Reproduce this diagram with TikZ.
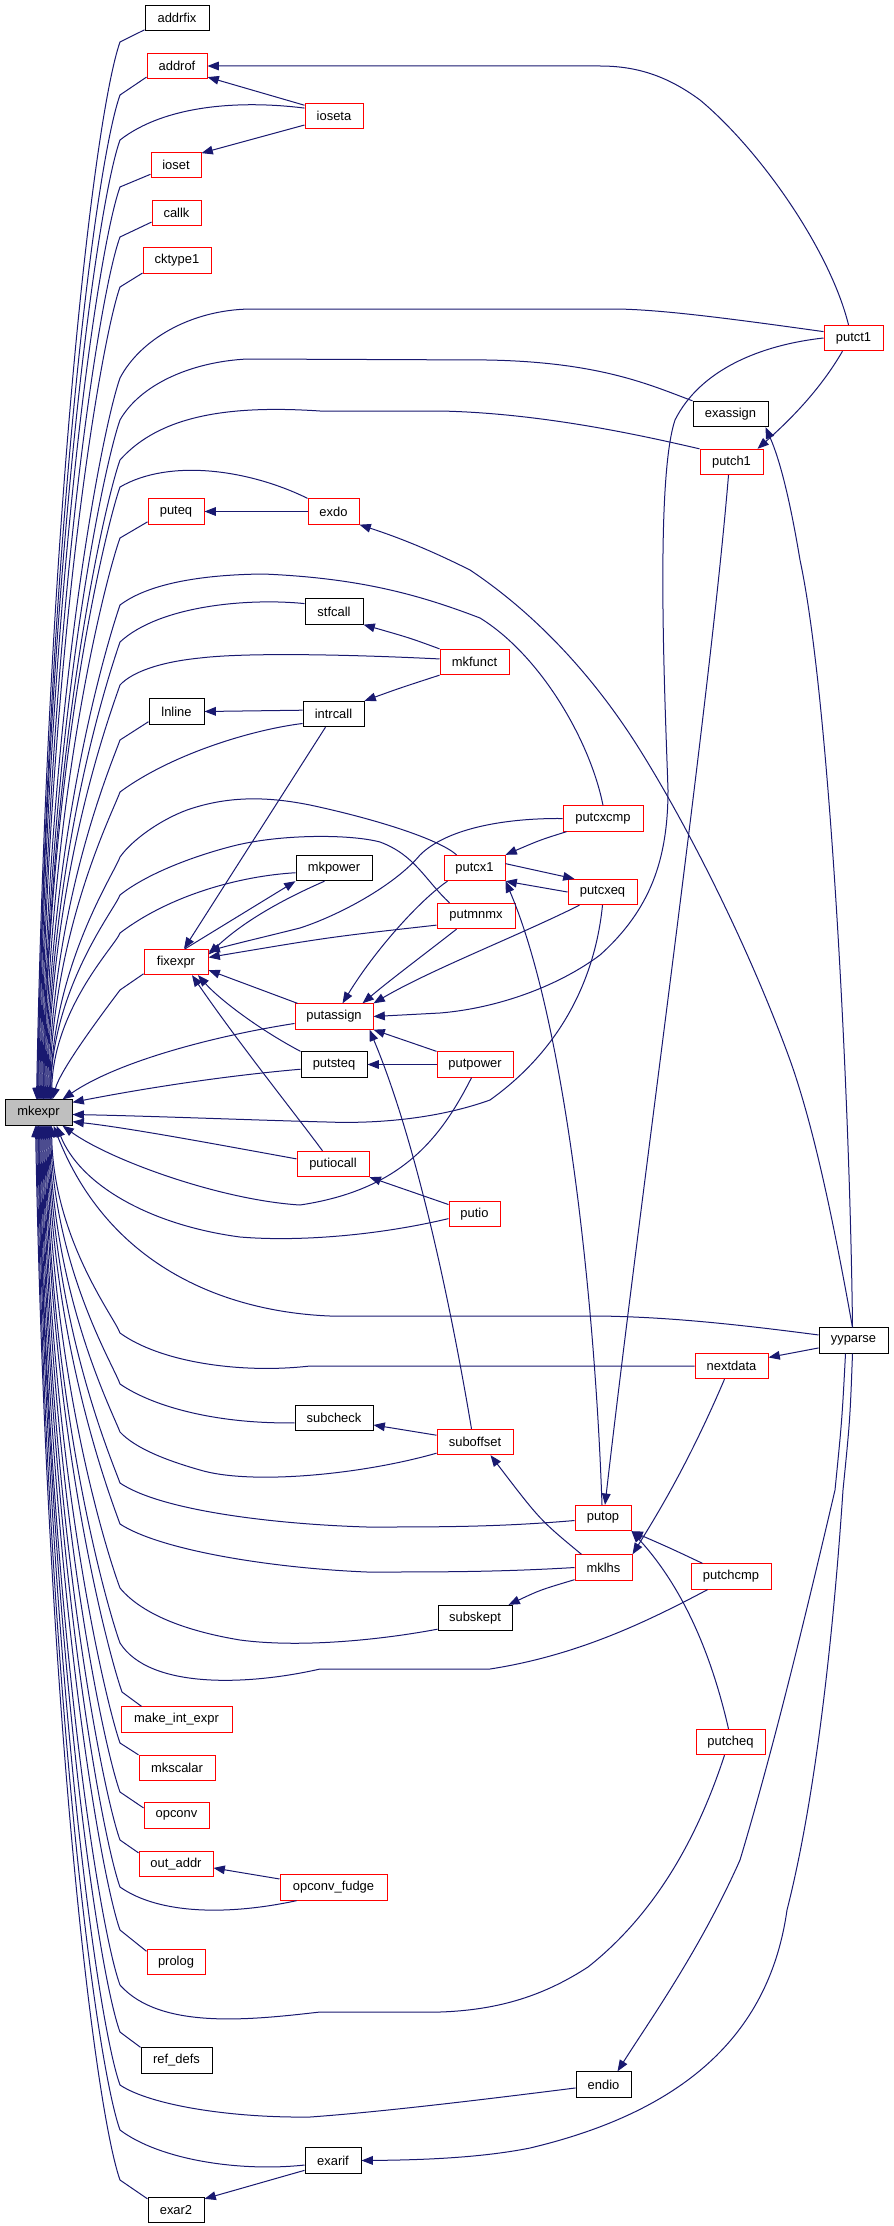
\documentclass[tikz,border=0pt]{standalone}
\usepackage{fontspec}
\setmainfont{Liberation Sans}
\usetikzlibrary{arrows.meta,calc}
\definecolor{edgec}{HTML}{191970}
\definecolor{nodered}{HTML}{FF0000}
\definecolor{nodegray}{HTML}{BFBFBF}
\begin{document}
\begin{tikzpicture}[x=0.75pt,y=-0.75pt,
  fn/.style={draw=black, fill=white, line width=0.75pt, minimum height=19pt, inner sep=1.5pt, font=\fontsize{9.7}{11}\selectfont},
  rn/.style={fn, draw=nodered},
  gn/.style={fn, fill=nodegray},
  ed/.style={draw=edgec, line width=0.75pt, -{Triangle[length=8.5pt,width=6.5pt]}}]
\useasboundingbox (0,0) rectangle (893,2226);
\fill[white] (0,0) rectangle (893,2226);
% nodes
\node[gn, minimum width=50.25pt] (mkexpr) at (38.5,1112.5) {mkexpr};
\node[fn, minimum width=48pt] (addrfix) at (177,18) {addrfix};
\node[rn, minimum width=45pt] (addrof) at (177,66) {addrof};
\node[rn, minimum width=43.5pt] (ioseta) at (334,116) {ioseta};
\node[rn, minimum width=37.5pt] (ioset) at (176,165) {ioset};
\node[rn, minimum width=36.75pt] (callk) at (176.5,213) {callk};
\node[rn, minimum width=51pt] (cktype1) at (177,260.5) {cktype1};
\node[rn, minimum width=44.25pt] (putct1) at (853.5,338) {putct1};
\node[fn, minimum width=56.25pt] (exassign) at (730.5,414) {exassign};
\node[rn, minimum width=47.25pt] (putch1) at (731.5,462) {putch1};
\node[rn, minimum width=42pt] (puteq) at (176,511.5) {puteq};
\node[rn, minimum width=38.25pt] (exdo) at (333.5,511.5) {exdo};
\node[fn, minimum width=43.5pt] (stfcall) at (334,611.5) {stfcall};
\node[rn, minimum width=51.75pt] (mkfunct) at (474.5,662) {mkfunct};
\node[fn, minimum width=41.25pt] (lnline) at (176.5,711.5) {lnline};
\node[fn, minimum width=45.75pt] (intrcall) at (333.5,714) {intrcall};
\node[rn, minimum width=60pt] (putcxcmp) at (603,818.5) {putcxcmp};
\node[rn, minimum width=45.75pt] (putcx1) at (474.5,868) {putcx1};
\node[fn, minimum width=57pt] (mkpower) at (334,868) {mkpower};
\node[rn, minimum width=51.75pt] (putcxeq) at (602.5,892) {putcxeq};
\node[rn, minimum width=58.5pt] (putmnmx) at (476,916) {putmnmx};
\node[rn, minimum width=48pt] (fixexpr) at (176,962) {fixexpr};
\node[rn, minimum width=58.5pt] (putassign) at (334,1016.5) {putassign};
\node[fn, minimum width=49.5pt] (putsteq) at (334,1064.5) {putsteq};
\node[rn, minimum width=57pt] (putpower) at (475,1064.5) {putpower};
\node[rn, minimum width=54pt] (putiocall) at (333,1164) {putiocall};
\node[rn, minimum width=38.25pt] (putio) at (474.5,1214) {putio};
\node[fn, minimum width=51.75pt] (yyparse) at (853.5,1340.5) {yyparse};
\node[rn, minimum width=54.75pt] (nextdata) at (731.5,1366) {nextdata};
\node[fn, minimum width=58.5pt] (subcheck) at (334,1418) {subcheck};
\node[rn, minimum width=57pt] (suboffset) at (475,1442) {suboffset};
\node[rn, minimum width=42pt] (putop) at (603,1518) {putop};
\node[rn, minimum width=42.75pt] (mklhs) at (603.5,1567.5) {mklhs};
\node[rn, minimum width=60pt] (putchcmp) at (731,1576.5) {putchcmp};
\node[fn, minimum width=55.5pt] (subskept) at (475,1618) {subskept};
\node[rn, minimum width=51.75pt] (putcheq) at (730.5,1742) {putcheq};
\node[rn, minimum width=83.25pt] (mie) at (176.5,1719.5) {make\_int\_expr};
\node[rn, minimum width=57pt] (mkscalar) at (177,1768) {mkscalar};
\node[rn, minimum width=48.75pt] (opconv) at (176.5,1815.5) {opconv};
\node[rn, minimum width=55.5pt] (outaddr) at (176,1864) {out\_addr};
\node[rn, minimum width=80.25pt] (ofudge) at (333.5,1887.5) {opconv\_fudge};
\node[rn, minimum width=43.5pt] (prolog) at (176,1962) {prolog};
\node[fn, minimum width=41.25pt] (endio) at (603.5,2084.5) {endio};
\node[fn, minimum width=53.25pt] (refdefs) at (176.5,2060.5) {ref\_defs};
\node[fn, minimum width=42pt] (exarif) at (333,2160.5) {exarif};
\node[fn, minimum width=42pt] (exar2) at (176,2210) {exar2};
% upper edges into mkexpr
\draw[ed] (addrfix.200) -- (120,42) .. controls +(-26,74) and +(11,-582) .. ($(mkexpr.north west)+(32,0)$);
\draw[ed] (addrof.200) -- (120,95) .. controls +(-25,70) and +(10,-553) .. ($(mkexpr.north west)+(33,0)$);
\draw[ed] (ioseta.165) .. controls (240,100) and (165,105) .. (120,140) .. controls +(-24,67) and +(10,-528) .. ($(mkexpr.north west)+(33,0)$);
\draw[ed] (ioset.200) -- (120,187) .. controls +(-23,64) and +(9,-502) .. ($(mkexpr.north west)+(34,0)$);
\draw[ed] (callk.200) -- (120,237) .. controls +(-22,60) and +(9,-475) .. ($(mkexpr.north west)+(35,0)$);
\draw[ed] (cktype1.200) -- (120,287) .. controls +(-20,57) and +(8,-447) .. ($(mkexpr.north west)+(36,0)$);
\draw[ed] (putct1.168) .. controls (740,320) and (660,309) .. (613,309) -- (250,309) .. controls (190,310) and (140,340) .. (120,378) .. controls +(-18,51) and +(7,-397) .. ($(mkexpr.north west)+(37,0)$);
\draw[ed] (exassign.north west) .. controls (650,385) and (600,362) .. (487,360) -- (247,359) .. controls (190,362) and (140,385) .. (120,420) .. controls +(-17,48) and +(7,-374) .. ($(mkexpr.north west)+(38,0)$);
\draw[ed] (putch1.north west) .. controls (640,435) and (540,413) .. (440,411) -- (320,411) .. controls (230,405) and (160,415) .. (120,460) .. controls +(-16,45) and +(6,-352) .. ($(mkexpr.north west)+(39,0)$);
\draw[ed] (exdo.north west) .. controls (250,470) and (170,458) .. (120,487) .. controls +(-15,43) and +(6,-337) .. ($(mkexpr.north west)+(39,0)$);
\draw[ed] (puteq.200) -- (120,538) .. controls +(-14,39) and +(6,-309) .. ($(mkexpr.north west)+(40,0)$);
\draw[ed] (putcxcmp.north) .. controls (590,740) and (540,655) .. (480,618) .. controls (420,595) and (360,578) .. (263,574) .. controls (180,575) and (140,590) .. (120,605) .. controls +(-12,35) and +(5,-272) .. ($(mkexpr.north west)+(41,0)$);
\draw[ed] (stfcall.165) .. controls (250,598) and (160,605) .. (120,642) .. controls +(-11,32) and +(5,-252) .. ($(mkexpr.north west)+(42,0)$);
\draw[ed] (mkfunct.175) .. controls (360,655) and (250,652) .. (200,658) .. controls (160,662) and (132,672) .. (120,685) .. controls +(-10,29) and +(4,-228) .. ($(mkexpr.north west)+(43,0)$);
\draw[ed] (lnline.200) -- (120,740) .. controls +(-9,25) and +(4,-198) .. ($(mkexpr.north west)+(44,0)$);
\draw[ed] (intrcall.197) .. controls (250,730) and (170,755) .. (120,792) .. controls +(-8,22) and +(3,-169) .. ($(mkexpr.north west)+(45,0)$);
\draw[ed] ($(putcx1.north west)+(13,0)$) .. controls (440,840) and (380,820) .. (310,805) .. controls (270,797) and (230,795) .. (187,810) .. controls (160,820) and (132,840) .. (120,857) .. controls +(-6,17) and +(2,-134) .. ($(mkexpr.north west)+(46,0)$);
\draw[ed] ($(putmnmx.north west)+(13,0)$) .. controls (425,880) and (415,855) .. (380,842) .. controls (350,834) and (280,834) .. (233,846) .. controls (190,857) and (145,875) .. (120,895) .. controls +(-5,14) and +(2,-113) .. ($(mkexpr.north west)+(46,0)$);
\draw[ed] (mkpower.187) .. controls (240,876) and (170,895) .. (120,933) .. controls +(-4,12) and +(2,-92) .. ($(mkexpr.north west)+(47,0)$);
\draw[ed] (fixexpr.200) -- (120,990) .. controls +(-18,24) and +(8,-30) .. ($(mkexpr.north west)+(48,0)$);
% right side into mkexpr
\draw[ed] (putassign.190) .. controls (220,1035) and (120,1060) .. ($(mkexpr.north west)+(58,0)$);
\draw[ed] (putsteq.188) .. controls (200,1078) and (110,1095) .. ($(mkexpr.north east)+(0,3)$);
\draw[ed] (putcxeq.south) .. controls (595,980) and (560,1050) .. (490,1100) .. controls (440,1118) and (380,1124) .. (327,1122) .. controls (250,1120) and (150,1116) .. ($(mkexpr.east)+(0,2)$);
\draw[ed] (putiocall.172) .. controls (220,1145) and (130,1128) .. ($(mkexpr.south east)+(0,-4)$);
% lower edges into mkexpr
\draw[ed] ($(putpower.south west)+(35,0)$) .. controls (440,1140) and (400,1190) .. (300,1205) .. controls (220,1200) and (110,1160) .. ($(mkexpr.south west)+(58,0)$);
\draw[ed] (putio.190) .. controls (380,1235) and (300,1242) .. (240,1237) .. controls (150,1225) and (80,1185) .. ($(mkexpr.south west)+(52,0)$);
\draw[ed] (yyparse.171) .. controls (720,1322) and (660,1317) .. (600,1316) -- (330,1316) .. controls (230,1312) and (110,1270) .. ($(mkexpr.south west)+(49,0)$);
\draw[ed] (nextdata.west) -- (310,1366) .. controls (240,1374) and (160,1362) .. (120,1333) .. controls +(-5,-15) and +(2,114) .. ($(mkexpr.south west)+(47,0)$);
\draw[ed] (subcheck.187) .. controls (220,1424) and (155,1408) .. (120,1384) .. controls +(-6,-18) and +(3,142) .. ($(mkexpr.south west)+(46,0)$);
\draw[ed] ($(suboffset.south west)+(0,-2)$) .. controls (360,1475) and (250,1485) .. (200,1470) .. controls (165,1460) and (135,1448) .. (120,1432) .. controls +(-8,-21) and +(3,169) .. ($(mkexpr.south west)+(45,0)$);
\draw[ed] (putop.185) .. controls (500,1527) and (440,1527) .. (367,1527) .. controls (270,1524) and (160,1510) .. (120,1483) .. controls +(-9,-25) and +(4,197) .. ($(mkexpr.south west)+(44,0)$);
\draw[ed] (mklhs.west) .. controls (500,1572) and (440,1572) .. (367,1572) .. controls (270,1568) and (160,1550) .. (120,1524) .. controls +(-10,-28) and +(4,219) .. ($(mkexpr.south west)+(43,0)$);
\draw[ed] ($(subskept.south west)+(0,-2)$) .. controls (380,1640) and (300,1648) .. (240,1640) .. controls (180,1630) and (140,1612) .. (120,1588) .. controls +(-12,-32) and +(5,255) .. ($(mkexpr.south west)+(42,0)$);
\draw[ed] ($(putchcmp.south west)+(17,0)$) .. controls (650,1620) and (580,1655) .. (490,1669) -- (320,1669) .. controls (250,1685) and (150,1690) .. (120,1643) .. controls +(-13,-36) and +(5,285) .. ($(mkexpr.south west)+(41,0)$);
\draw[ed] ($(mie.north west)+(21,0)$) -- (122,1692) .. controls +(-14,-40) and +(6,312) .. ($(mkexpr.south west)+(40,0)$);
\draw[ed] (mkscalar.north west) -- (120,1743) .. controls +(-15,-43) and +(6,340) .. ($(mkexpr.south west)+(39,0)$);
\draw[ed] (opconv.167) -- (120,1792) .. controls +(-17,-47) and +(7,367) .. ($(mkexpr.south west)+(38,0)$);
\draw[ed] ($(outaddr.north west)+(0,2)$) -- (120,1840) .. controls +(-18,-50) and +(7,393) .. ($(mkexpr.south west)+(37,0)$);
\draw[ed] ($(ofudge.south west)+(17,0)$) .. controls (230,1915) and (160,1915) .. (120,1887) .. controls +(-19,-53) and +(8,419) .. ($(mkexpr.south west)+(36,0)$);
\draw[ed] (prolog.160) -- (120,1930) .. controls +(-20,-56) and +(8,443) .. ($(mkexpr.south west)+(35,0)$);
\draw[ed] ($(putcheq.south west)+(29,0)$) .. controls (700,1830) and (660,1910) .. (588,1967) .. controls (545,1995) and (500,2010) .. (440,2012) -- (320,2012) .. controls (250,2020) and (160,2030) .. (120,1985) .. controls +(-22,-60) and +(9,473) .. ($(mkexpr.south west)+(34,0)$);
\draw[ed] (refdefs.north west) -- (120,2032) .. controls +(-23,-63) and +(9,499) .. ($(mkexpr.south west)+(34,0)$);
\draw[ed] (endio.187) .. controls (480,2100) and (380,2112) .. (310,2117) .. controls (230,2118) and (150,2105) .. (120,2085) .. controls +(-24,-67) and +(10,528) .. ($(mkexpr.south west)+(33,0)$);
\draw[ed] (exarif.189) .. controls (240,2172) and (160,2160) .. (120,2130) .. controls +(-25,-70) and +(10,553) .. ($(mkexpr.south west)+(32,0)$);
\draw[ed] ($(exar2.north west)+(0,2)$) -- (120,2180) .. controls +(-26,-74) and +(11,580) .. ($(mkexpr.south west)+(31,0)$);
% other edges
\draw[ed] (ioseta.160) -- (addrof.-20);
\draw[ed] (ioseta.197) -- (ioset.25);
\draw[ed] ($(putct1.north west)+(25,0)$) .. controls (830,250) and (760,150) .. (700,100) .. controls (670,78) and (640,66) .. (600,66) -- (addrof.east);
\draw[ed] ($(putct1.south west)+(19,0)$) .. controls (820,390) and (790,420) .. ($(putch1.north east)+(-6,0)$);
\draw[ed] (putct1.west) .. controls (760,345) and (700,370) .. (675,420) .. controls (655,480) and (665,700) .. (668,790) .. controls (668,860) and (650,910) .. (600,955) .. controls (560,985) and (500,1008) .. (440,1013) -- (putassign.east);
\draw[ed] (exdo.west) -- (puteq.east);
\draw[ed] (mkfunct.north west) .. controls (410,638) .. (stfcall.south east);
\draw[ed] (mkfunct.south west) .. controls (400,688) .. (intrcall.north east);
\draw[ed] (intrcall.173) -- (lnline.east);
\draw[ed] ($(intrcall.south)+(-8,0)$) -- ($(fixexpr.north)+(8,0)$);
\draw[ed] ($(putcxcmp.south west)+(4,0)$) .. controls (540,840) .. (putcx1.north east);
\draw[ed] (putcx1.8) -- ($(putcxeq.north west)+(7,0)$);
\draw[ed] (putcxeq.west) -- (putcx1.south east);
\draw[ed] (putcxcmp.west) .. controls (500,818) and (445,830) .. (420,855) .. controls (395,885) and (340,915) .. (300,928) .. controls (260,938) and (230,945) .. (fixexpr.18);
\draw[ed] ($(fixexpr.north)+(9,0)$) -- (mkpower.south west);
\draw[ed] ($(mkpower.south west)+(29,0)$) .. controls (300,892) and (250,915) .. (fixexpr.13);
\draw[ed] (putmnmx.193) .. controls (330,937) .. (fixexpr.8);
\draw[ed] ($(putcx1.south west)+(4,0)$) .. controls (420,900) and (375,950) .. ($(putassign.north west)+(48,0)$);
\draw[ed] ($(putmnmx.south west)+(20,0)$) .. controls (430,950) and (390,980) .. ($(putassign.north west)+(68,0)$);
\draw[ed] ($(putcxeq.south west)+(12,0)$) .. controls (520,935) and (430,970) .. (putassign.north east);
\draw[ed] ($(putassign.north west)+(3,0)$) -- (fixexpr.-14);
\draw[ed] (putpower.north west) -- (putassign.south east);
\draw[ed] ($(suboffset.north west)+(35,0)$) .. controls (455,1330) and (420,1150) .. ($(putassign.south east)+(-4,0)$);
\draw[ed] (putpower.west) -- (putsteq.east);
\draw[ed] (putsteq.north west) .. controls (260,1030) and (220,1000) .. ($(fixexpr.south)+(22,0)$);
\draw[ed] ($(putiocall.north west)+(26,0)$) .. controls (300,1120) and (240,1045) .. ($(fixexpr.south)+(16,0)$);
\draw[ed] (putio.160) -- (putiocall.south east);
\draw[ed] (yyparse.192) -- (nextdata.13);
\draw[ed] ($(yyparse.north)+(-1,0)$) .. controls (850,1100) and (830,700) .. (800,560) .. controls (790,500) and (780,460) .. ($(exassign.south east)+(-3,0)$);
\draw[ed] ($(yyparse.north)+(-1,0)$) .. controls (835,1230) and (815,1130) .. (790,1060) .. controls (750,950) and (690,830) .. (640,750) .. controls (590,670) and (530,610) .. (470,570) .. controls (430,550) and (400,538) .. (exdo.south east);
\draw[ed] ($(yyparse.south)+(-1,0)$) .. controls (850,1420) .. (843,1490) .. controls (833,1640) and (815,1800) .. (787,1910) .. controls (770,2030) and (690,2110) .. (530,2148) .. controls (480,2158) and (420,2160) .. (exarif.east);
\draw[ed] ($(yyparse.south)+(-8,0)$) .. controls (842,1420) .. (835,1490) .. controls (800,1640) and (770,1760) .. (740,1860) .. controls (700,1950) and (650,2020) .. ($(endio.north)+(14,0)$);
\draw[ed] ($(nextdata.south west)+(30,0)$) .. controls (690,1460) and (660,1510) .. (mklhs.north east);
\draw[ed] ($(putch1.south)+(-3,0)$) .. controls (710,700) and (640,1200) .. ($(putop.north)+(2,0)$);
\draw[ed] ($(putop.north)+(-1,0)$) .. controls (595,1300) and (565,1020) .. (putcx1.south east);
\draw[ed] ($(putchcmp.north west)+(12,0)$) .. controls (670,1548) .. (putop.south east);
\draw[ed] ($(putcheq.north)+(-2,0)$) .. controls (715,1670) and (690,1595) .. (putop.south east);
\draw[ed] ($(mklhs.north west)+(7,0)$) .. controls (540,1520) .. ($(suboffset.south east)+(-23,0)$);
\draw[ed] ($(mklhs.south west)+(0,-1)$) .. controls (540,1590) .. ($(subskept.north east)+(-4,0)$);
\draw[ed] (suboffset.170) -- (subcheck.-10);
\draw[ed] (ofudge.171) -- (outaddr.-6);
\draw[ed] (exarif.199) -- ($(exar2.north east)+(0,2)$);
\end{tikzpicture}
\end{document}
